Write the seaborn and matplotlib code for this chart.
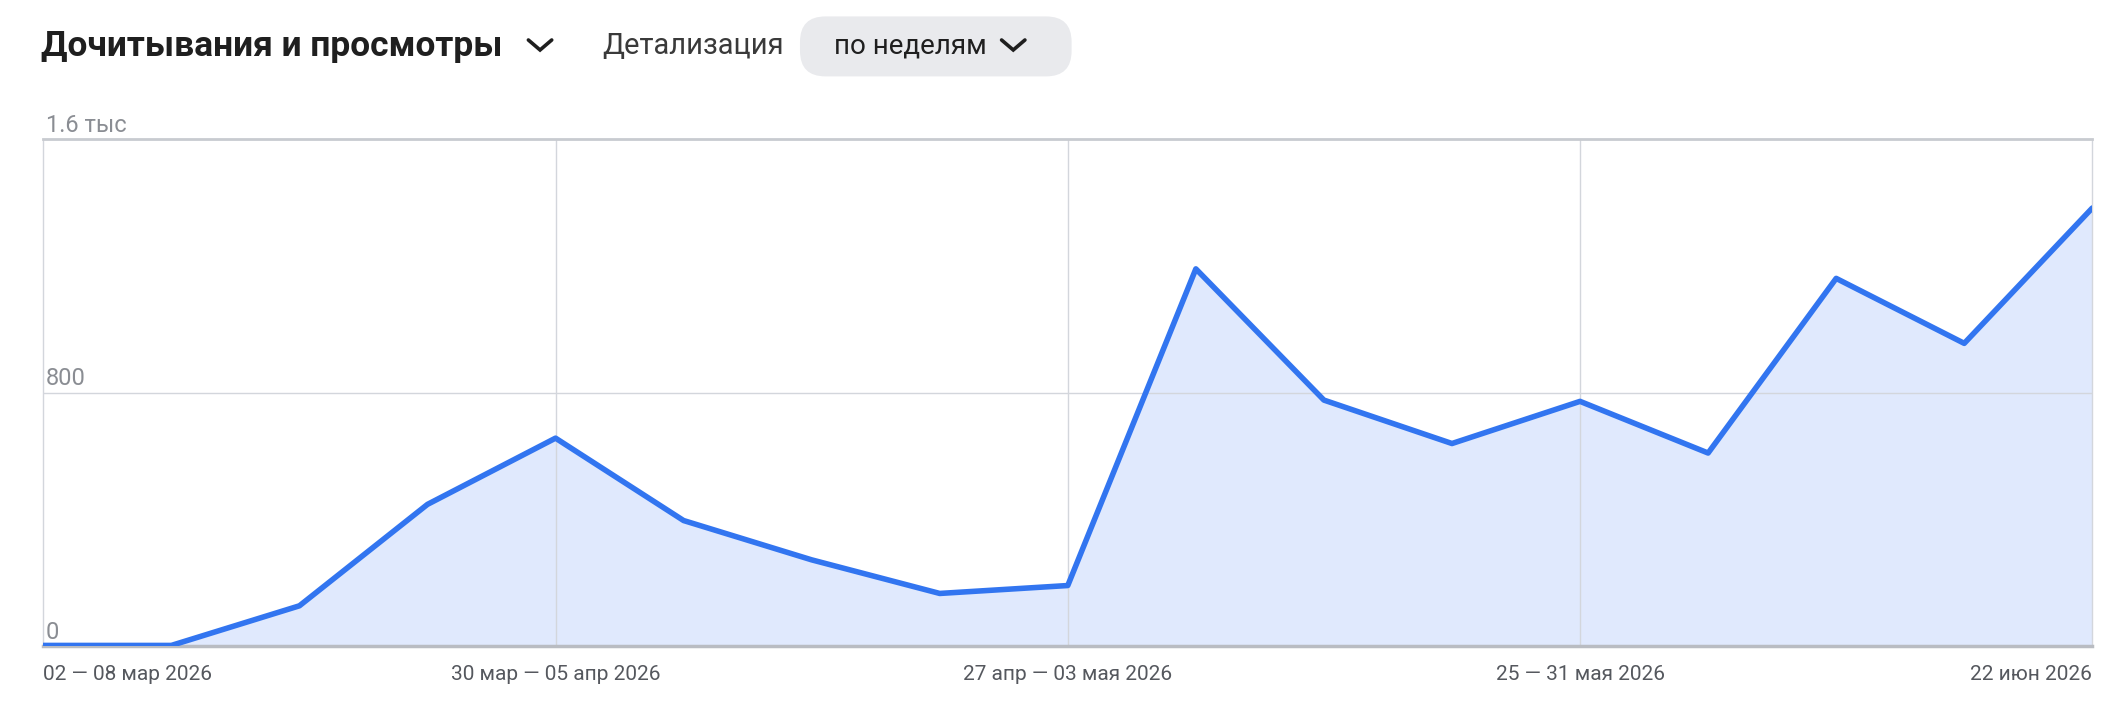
import matplotlib
matplotlib.use("Agg")
import matplotlib.pyplot as plt
import seaborn as sns
import pandas as pd
from matplotlib.patches import FancyBboxPatch
from matplotlib.lines import Line2D

weeks = list(range(17))
values = [3, 3, 128, 448, 657, 397, 273, 167, 192, 1191, 777, 640, 773, 610, 1161, 956, 1383]
tick_pos = [0, 4, 8, 12, 16]
tick_labels = ["02 — 08 мар 2026", "30 мар — 05 апр 2026", "27 апр — 03 мая 2026",
               "25 — 31 мая 2026", "22 июн 2026"]
y_ticks = [0, 800, 1600]
y_labels = ["0", "800", "1.6 тыс"]

sns.set_theme(style="white")
plt.rcParams['font.family'] = ['Roboto', 'DejaVu Sans']

fig = plt.figure(figsize=(21.22, 7.14), dpi=100)
ax = fig.add_axes([0.0204, 0.0947, 0.9656, 0.7103])
df = pd.DataFrame({"w": weeks, "v": values})
blue = "#3275f0"
ax.fill_between(df.w, df.v, color="#e0e9fd", zorder=1)
sns.lineplot(data=df, x="w", y="v", ax=ax, color=blue, linewidth=4, zorder=3)
ax.set_xlim(0, 16)
ax.set_ylim(0, 1600)
ax.set_xlabel(""); ax.set_ylabel("")
for p in tick_pos[1:-1]:
    ax.axvline(p, color="#d3d6dc", lw=1, zorder=2)
ax.axhline(800, color="#d3d6dc", lw=1, zorder=2)
ax.set_xticks([]); ax.set_yticks([])
for s in ["left", "right"]:
    ax.spines[s].set_color("#d3d6dc"); ax.spines[s].set_linewidth(1)
ax.spines["top"].set_color("#c8cbd0"); ax.spines["top"].set_linewidth(2)
ax.spines["bottom"].set_color("#b9bcc2"); ax.spines["bottom"].set_linewidth(2.5)
for yv, lab in zip(y_ticks, y_labels):
    ax.text(0.02, yv + 8, lab, fontsize=17, color="#8a8d93", va="bottom", ha="left", zorder=4)
for p, lab in zip(tick_pos, tick_labels):
    ha = "left" if p == 0 else ("right" if p == 16 else "center")
    ax.text(p, -60, lab, fontsize=15, color="#55585e", ha=ha, va="top")

fig.text(0.0195, 0.935, "Дочитывания и просмотры", fontsize=25.5, fontweight="bold",
         color="#1f1f1f", va="center", ha="left")
fig.text(0.284, 0.935, "Детализация", fontsize=21, color="#3a3a3a", va="center", ha="left")
box = FancyBboxPatch((0.377, 0.893), 0.128, 0.084, boxstyle="round,pad=0,rounding_size=0.012",
                     transform=fig.transFigure, facecolor="#e9eaed", edgecolor="none",
                     mutation_aspect=2122/714)
fig.patches.append(box)
fig.text(0.393, 0.935, "по неделям", fontsize=20, color="#1f1f1f", va="center", ha="left")

def chevron(cx, cy):
    w, h = 0.0055, 0.014
    fig.add_artist(Line2D([cx - w, cx, cx + w], [cy + h / 2, cy - h / 2, cy + h / 2],
                          transform=fig.transFigure, color="#1f1f1f", lw=2.6,
                          solid_capstyle="round", solid_joinstyle="miter"))
chevron(0.2545, 0.937)
chevron(0.4775, 0.937)
fig.savefig("out.png", dpi=100, facecolor="white")
